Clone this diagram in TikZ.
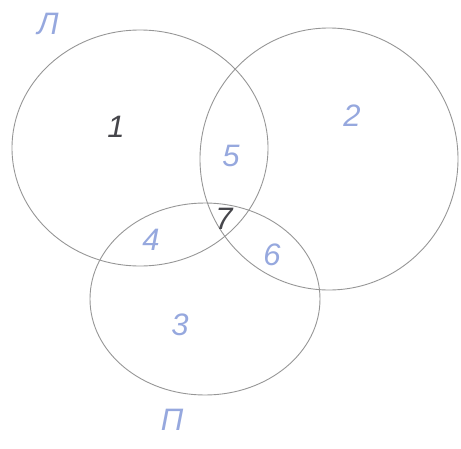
\documentclass[tikz,border=0pt]{standalone}
\usepackage{fontspec}
\setmainfont{Liberation Sans}
\usepackage{tikz}
\usetikzlibrary{positioning}
\definecolor{penblue}{RGB}{150,168,222}
\definecolor{pencil}{RGB}{150,150,150}
\definecolor{lead}{RGB}{70,70,75}

\tikzset{
  setline/.style={pencil, line width=0.9pt},
  hand/.style={penblue, font=\fontsize{31}{31}\selectfont\itshape},
  darkhand/.style={lead, font=\fontsize{31}{31}\selectfont\itshape}
}

\begin{document}
\begin{tikzpicture}[x=1pt,y=-1pt]
  \useasboundingbox (0,0) rectangle (461,448);

  % Sets
  \draw[setline] (140,148) ellipse [x radius=128, y radius=118];
  \draw[setline] (329,159) ellipse [x radius=129, y radius=131];
  \draw[setline] (205,299) ellipse [x radius=115, y radius=96];

  % Set names
  \node[hand] (nameL) at (48,24) {Л};
  \node[hand] (nameP) at (172,420) {П};

  % Regions
  \node[darkhand] (r1) at (116,127) {1};
  \node[hand] (r2) at (352,116) {2};
  \node[hand] (r3) at (180,325) {3};
  \node[hand] (r4) at (151,240) {4};
  \node[hand] (r5) at (231,156) {5};
  \node[hand] (r6) at (272,255) {6};
  \node[darkhand] (r7) at (224,219) {7};
\end{tikzpicture}
\end{document}
